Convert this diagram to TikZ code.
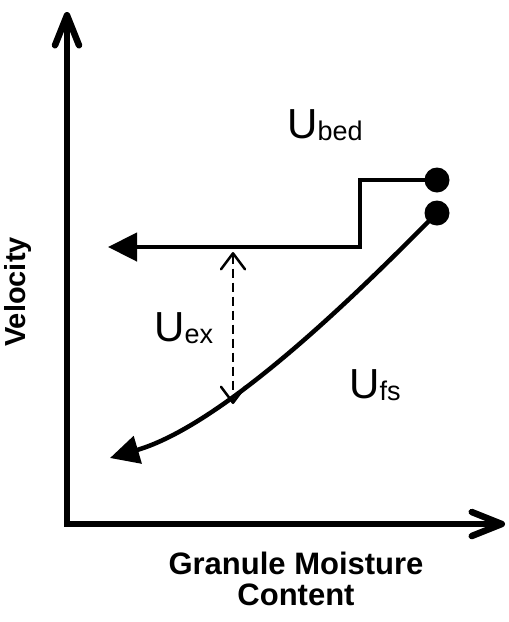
\documentclass[tikz,border=0pt]{standalone}
\usepackage{fontspec}
\setmainfont{Liberation Sans}
\usetikzlibrary{arrows.meta}
\newcommand\subtxt[1]{{\fontsize{27}{27}\selectfont\raisebox{-2pt}{#1}}}

\begin{document}
\begin{tikzpicture}[x=1pt,y=-1pt,
  axis/.style={line width=6.5pt,{Straight Barb[length=30pt,width=24pt,round]}-{Straight Barb[length=30pt,width=24pt,round]}},
  path line/.style={line width=4.5pt,-{Triangle[length=29pt,width=28pt]}},
  excess/.style={line width=2.5pt,dash pattern=on 9pt off 5pt,{Straight Barb[length=16pt,width=24pt,round]}-{Straight Barb[length=16pt,width=24pt,round]}},
  dot/.style={circle,fill,inner sep=0pt,minimum size=25pt},
  big/.style={font=\fontsize{42}{46}\selectfont,inner sep=0pt,anchor=base west},
  title/.style={font=\fontsize{31}{31}\selectfont\bfseries,inner sep=0pt,align=center}]
\useasboundingbox (0,0) rectangle (509,622);

% axes
\coordinate (ytip) at (67,12);
\coordinate (o) at (67,524);
\coordinate (xtip) at (505,524);
\draw[axis] (ytip) -- (o) -- (xtip);
\node[title,font=\fontsize{29}{30}\selectfont\bfseries,rotate=90,anchor=base] (vel) at (25,292) {Velocity};
\node[title,anchor=north] (gmc) at (296,552) {Granule Moisture\\Content};

% bed velocity and free stream
\node[dot] (bed) at (437,180) {};
\node[dot] (fs) at (437,213) {};
\coordinate (kink) at (360,247);
\coordinate (bedend) at (108,247);
\coordinate (fsend) at (110,458);
\draw[path line] (bed.center) -| (kink) -- (bedend);
\draw[path line] (fs.center) .. controls (380,270) and (232,422) .. (fsend);

% excess
\coordinate (exhi) at (233,252);
\coordinate (exlo) at (233,404);
\draw[excess] (exhi) -- (exlo);

\node[big] (ubed) at (287,138) {U\subtxt{bed}};
\node[big] (uex) at (154,341) {U\subtxt{ex}};
\node[big] (ufs) at (349,398) {U\subtxt{fs}};
\end{tikzpicture}
\end{document}
